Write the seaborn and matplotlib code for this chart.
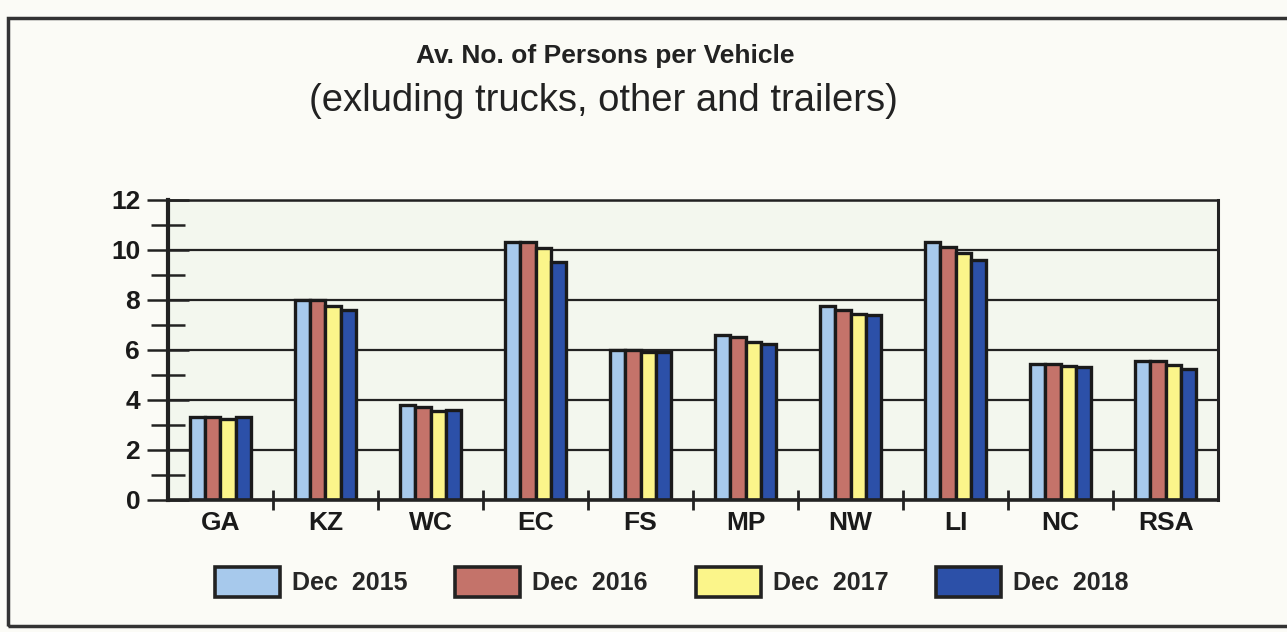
import matplotlib
matplotlib.use("Agg")
import matplotlib.pyplot as plt
from matplotlib.patches import Patch, Rectangle
from matplotlib.ticker import MultipleLocator, FixedLocator
import seaborn as sns
import pandas as pd

# Datos
regions = ['GA', 'KZ', 'WC', 'EC', 'FS', 'MP', 'NW', 'LI', 'NC', 'RSA']
periods = ['Dec  2015', 'Dec  2016', 'Dec  2017', 'Dec  2018']
dec_2015 = [3.3, 8.0, 3.8, 10.3, 6.0, 6.6, 7.75, 10.3, 5.45, 5.55]
dec_2016 = [3.3, 8.0, 3.7, 10.3, 6.0, 6.5, 7.6, 10.1, 5.45, 5.55]
dec_2017 = [3.25, 7.75, 3.55, 10.05, 5.9, 6.3, 7.45, 9.85, 5.35, 5.4]
dec_2018 = [3.3, 7.6, 3.6, 9.5, 5.9, 6.25, 7.4, 9.6, 5.3, 5.25]
colors = ['#a7c9ec', '#c4736a', '#fbf58a', '#2c50a8']

df = pd.DataFrame({
    'Region': regions * 4,
    'Period': [p for p in periods for _ in regions],
    'Value': dec_2015 + dec_2016 + dec_2017 + dec_2018,
})

sns.set_style('white')
plt.rcParams['font.family'] = ['Liberation Sans', 'DejaVu Sans']

fig = plt.figure(figsize=(12.87, 6.32), dpi=100, facecolor='#fbfbf6')
ax = fig.add_axes([0.1305, 0.209, 0.816, 0.475])
ax.set_facecolor('#f3f7ee')

sns.barplot(data=df, x='Region', y='Value', hue='Period', hue_order=periods,
            palette=colors, width=0.58, edgecolor='#1a1a1a', linewidth=2.4,
            saturation=1, ax=ax, legend=False)

ax.set_xlim(-0.5, len(regions) - 0.5)
ax.set_ylim(0, 12)
ax.yaxis.set_major_locator(MultipleLocator(2))
ax.yaxis.set_minor_locator(MultipleLocator(1))
ax.xaxis.set_minor_locator(FixedLocator([i + 0.5 for i in range(len(regions) - 1)]))
ax.set_axisbelow(True)
ax.yaxis.grid(True, color='#222222', linewidth=1.6)

ax.tick_params(axis='y', which='major', left=True, direction='inout', length=30, width=1.8,
               color='#222222', labelsize=19, pad=5)
ax.tick_params(axis='y', which='minor', left=True, direction='inout', length=24, width=1.8,
               color='#222222')
ax.tick_params(axis='x', which='major', bottom=True, length=0, labelsize=19, pad=8)
ax.tick_params(axis='x', which='minor', bottom=True, direction='inout', length=14, width=2,
               color='#222222')
for lab in ax.get_xticklabels() + ax.get_yticklabels():
    lab.set_fontweight('bold')
    lab.set_color('#1a1a1a')

ax.set_xlabel('')
ax.set_ylabel('')
for side, lw in [('left', 3), ('bottom', 2.6), ('right', 2.2), ('top', 1.8)]:
    ax.spines[side].set_visible(True)
    ax.spines[side].set_color('#222222')
    ax.spines[side].set_linewidth(lw)

fig.text(0.47, 0.911, 'Av. No. of Persons per Vehicle', ha='center', va='center',
         fontsize=19, fontweight='bold', color='#222222')
fig.text(0.469, 0.840, '(exluding trucks, other and trailers)', ha='center', va='center',
         fontsize=27.5, color='#222222')

handles = [Patch(facecolor=c, edgecolor='#222222', linewidth=2.6) for c in colors]
fig.legend(handles, periods, loc='center', bbox_to_anchor=(0.522, 0.079), ncol=4,
           frameon=False, prop={'weight': 'bold', 'size': 18},
           handlelength=2.6, handleheight=1.5, handletextpad=0.48, columnspacing=1.92)

# marco exterior
fig.add_artist(Rectangle((8 / 1287, 6 / 632), 1.2, 1 - 24 / 632, transform=fig.transFigure,
                         fill=False, edgecolor='#333333', linewidth=2.5))

fig.savefig('out.png', dpi=100, facecolor=fig.get_facecolor())
